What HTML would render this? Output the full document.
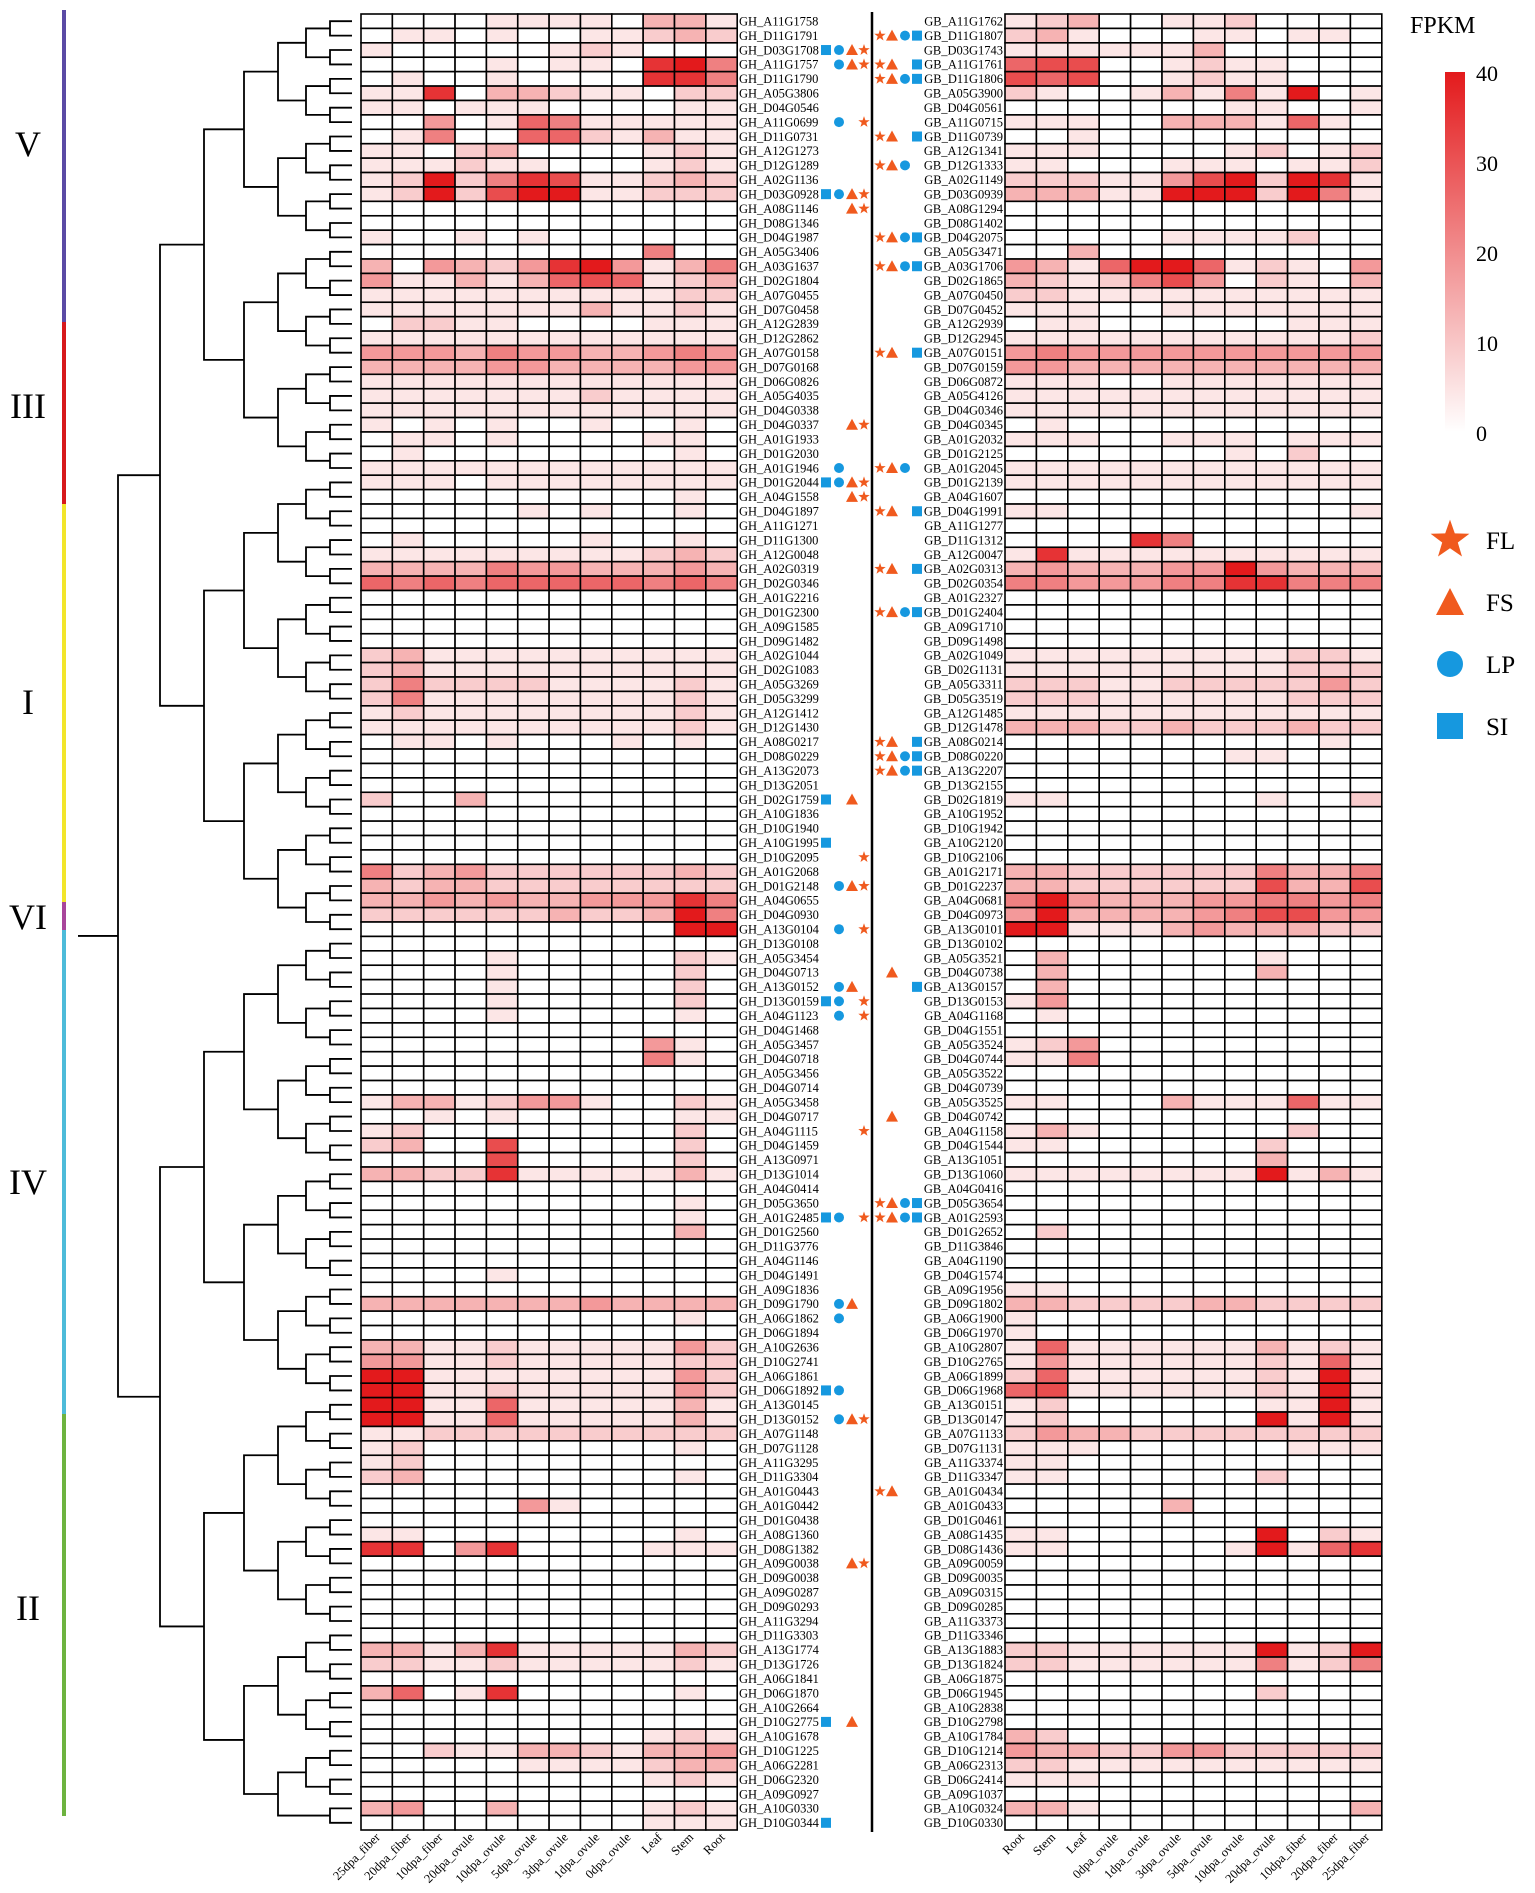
<!DOCTYPE html>
<html><head><meta charset="utf-8"><style>
html,body{margin:0;padding:0;background:#fff;}
svg{display:block;font-family:"Liberation Serif",serif;}
</style></head><body>
<svg id="chart" width="1535" height="1893" viewBox="0 0 1535 1893" xmlns="http://www.w3.org/2000/svg">
<g id="dendro"></g>
<g id="clades"></g>
<g id="hmL"></g>
<g id="hmR"></g>
<g id="labels"></g>
<g id="marks"></g>
<line x1="872" y1="12" x2="872" y2="1832" stroke="#000" stroke-width="2.5"/>
<g id="legend"></g>
</svg>
<script>
const leftGenes=["A11G1758","D11G1791","D03G1708","A11G1757","D11G1790","A05G3806","D04G0546","A11G0699","D11G0731","A12G1273","D12G1289","A02G1136","D03G0928","A08G1146","D08G1346","D04G1987","A05G3406","A03G1637","D02G1804","A07G0455","D07G0458","A12G2839","D12G2862","A07G0158","D07G0168","D06G0826","A05G4035","D04G0338","D04G0337","A01G1933","D01G2030","A01G1946","D01G2044","A04G1558","D04G1897","A11G1271","D11G1300","A12G0048","A02G0319","D02G0346","A01G2216","D01G2300","A09G1585","D09G1482","A02G1044","D02G1083","A05G3269","D05G3299","A12G1412","D12G1430","A08G0217","D08G0229","A13G2073","D13G2051","D02G1759","A10G1836","D10G1940","A10G1995","D10G2095","A01G2068","D01G2148","A04G0655","D04G0930","A13G0104","D13G0108","A05G3454","D04G0713","A13G0152","D13G0159","A04G1123","D04G1468","A05G3457","D04G0718","A05G3456","D04G0714","A05G3458","D04G0717","A04G1115","D04G1459","A13G0971","D13G1014","A04G0414","D05G3650","A01G2485","D01G2560","D11G3776","A04G1146","D04G1491","A09G1836","D09G1790","A06G1862","D06G1894","A10G2636","D10G2741","A06G1861","D06G1892","A13G0145","D13G0152","A07G1148","D07G1128","A11G3295","D11G3304","A01G0443","A01G0442","D01G0438","A08G1360","D08G1382","A09G0038","D09G0038","A09G0287","D09G0293","A11G3294","D11G3303","A13G1774","D13G1726","A06G1841","D06G1870","A10G2664","D10G2775","A10G1678","D10G1225","A06G2281","D06G2320","A09G0927","A10G0330","D10G0344"];
const rightGenes=["A11G1762","D11G1807","D03G1743","A11G1761","D11G1806","A05G3900","D04G0561","A11G0715","D11G0739","A12G1341","D12G1333","A02G1149","D03G0939","A08G1294","D08G1402","D04G2075","A05G3471","A03G1706","D02G1865","A07G0450","D07G0452","A12G2939","D12G2945","A07G0151","D07G0159","D06G0872","A05G4126","D04G0346","D04G0345","A01G2032","D01G2125","A01G2045","D01G2139","A04G1607","D04G1991","A11G1277","D11G1312","A12G0047","A02G0313","D02G0354","A01G2327","D01G2404","A09G1710","D09G1498","A02G1049","D02G1131","A05G3311","D05G3519","A12G1485","D12G1478","A08G0214","D08G0220","A13G2207","D13G2155","D02G1819","A10G1952","D10G1942","A10G2120","D10G2106","A01G2171","D01G2237","A04G0681","D04G0973","A13G0101","D13G0102","A05G3521","D04G0738","A13G0157","D13G0153","A04G1168","D04G1551","A05G3524","D04G0744","A05G3522","D04G0739","A05G3525","D04G0742","A04G1158","D04G1544","A13G1051","D13G1060","A04G0416","D05G3654","A01G2593","D01G2652","D11G3846","A04G1190","D04G1574","A09G1956","D09G1802","A06G1900","D06G1970","A10G2807","D10G2765","A06G1899","D06G1968","A13G0151","D13G0147","A07G1133","D07G1131","A11G3374","D11G3347","A01G0434","A01G0433","D01G0461","A08G1435","D08G1436","A09G0059","D09G0035","A09G0315","D09G0285","A11G3373","D11G3346","A13G1883","D13G1824","A06G1875","D06G1945","A10G2838","D10G2798","A10G1784","D10G1214","A06G2313","D06G2414","A09G1037","A10G0324","D10G0330"];
const leftCols=["25dpa_fiber","20dpa_fiber","10dpa_fiber","20dpa_ovule","10dpa_ovule","5dpa_ovule","3dpa_ovule","1dpa_ovule","0dpa_ovule","Leaf","Stem","Root"];
const rightCols=["Root","Stem","Leaf","0dpa_ovule","1dpa_ovule","3dpa_ovule","5dpa_ovule","10dpa_ovule","20dpa_ovule","10dpa_fiber","20dpa_fiber","25dpa_fiber"];
const Z="000000000000";
// values: digits 0-9 mapping to 0..40 FPKM
const leftValues=["000011110331","011010011232","100000121000","000010110895","010010000885","118033211022","110111000011","004016511111","015006621311","110230000121","111211000121","129258711232","129279911222",Z,Z,"100101000000","000000000500","304324894135","411313676123","111111111122","111111131121","022110000111","111111111111","444354433454","333344333344","111111111111","111111121111","111111111111","101010010010","011010000110","010000000010","111111111111","111011111111","000000000010","000001010010",Z,"010000010010","111111111232","333354433343","656566666565",Z,Z,Z,Z,"231111111111","231111111111","252222111121","251111111121","121111111121","111111111121","011010001010",Z,Z,Z,"200300000000",Z,Z,Z,Z,"523422222232","323322222222","334343344485","222222322395","000000000099",Z,"000010000021","000010000020","000010000020","000010000020","000010000010",Z,"000000000410","000000000510",Z,Z,"133124410021","001010000011","120000000020","230070000020","000070000020","332281111131",Z,"000000000010","000000000010","000000000030",Z,Z,"000010000000",Z,"333333343333","000000000010",Z,"331121111142","441121111122","991111111142","991121111142","991161111131","991161111131","112222222222","120000000010","120000000000","230000000010",Z,"000004100000",Z,"110000000010","880480000111",Z,Z,Z,Z,Z,Z,"331381111132","221121111121",Z,"360180000010",Z,Z,"000000000121","002113321334","000001111233","000000000121",Z,"340030000121","000000000111"];
const rightValues=["123001120000","231000110110","111111300000","677001211000","767001211000","210013151901","000000011001","111003331610","001000000000","111000012012","110001110112","222114792981","333119992951",Z,Z,"000001111200","003000000000","431699612104","321257402103","221111111111","111001111111","011000000111","111111111112","454444444444","443333333333","111001111111","111111111111","111111111111","010000000000","111001110111","000000010200","111111111111","111111111111",Z,"110000000001",Z,"000085000000","181111111111","343334494333","554445588555",Z,Z,Z,Z,"111111111221","111111111222","222112222242","222111111222","111111111111","333223222322","000000000010","000000011000",Z,Z,"110000001002",Z,Z,Z,Z,"332222225335","332222227337","594333445545","493333457744","991113433322",Z,"030000001000","030000003000","030000000000","140000000000","010000000000",Z,"124000000000","115000000000",Z,Z,"110003111611",Z,"131000000200","110000002000","000000003000","111111119131",Z,Z,Z,"020000000000",Z,Z,Z,"110000000000","332222332222","100000000000","100000000000","161111113121","141111112161","261111112191","671111112191","120000001191","120000009191","243322222222","111000000111","110000000000","110000002000",Z,"000003000000",Z,"110000009021","110000019168",Z,Z,Z,Z,Z,Z,"221111119129","221111115125",Z,"000000002000",Z,Z,"320000000000","433224422222","221111111111","111000000000",Z,"331000000003",Z];
// markers: S=SI square, C=LP circle, T=FS triangle, F=FL star (row index 1-based)
const leftMarks={3:"SCTF",4:"CTF",8:"CF",13:"SCTF",14:"TF",29:"TF",32:"C",33:"SCTF",34:"TF",55:"ST",58:"S",59:"F",61:"CTF",64:"CF",68:"CT",69:"SCF",70:"CF",78:"F",84:"SCF",90:"CT",91:"C",96:"SC",98:"CTF",108:"TF",119:"ST",126:"S"};
const rightMarks={2:"FTCS",4:"FTS",5:"FTCS",9:"FTS",11:"FTC",16:"FTCS",18:"FTCS",24:"FTS",32:"FTC",35:"FTS",39:"FTS",42:"FTCS",51:"FTS",52:"FTCS",53:"FTCS",67:"T",68:"S",77:"T",83:"FTCS",84:"FTCS",103:"FT"};
const clades=[{n:"V",y0:10,y1:322,c:"#5b4aa5"},{n:"III",y0:322,y1:504,c:"#d7191c"},{n:"I",y0:504,y1:902,c:"#f2e52a"},{n:"VI",y0:902,y1:930,c:"#a8459b"},{n:"IV",y0:930,y1:1414,c:"#4dbbd9"},{n:"II",y0:1414,y1:1816,c:"#6db33f"}];
const cladeLabelY=[144,406,702,917,1182,1608];
const cbTicks=[0,10,20,30,40];

const NS="http://www.w3.org/2000/svg";
function mk(tag,attrs,parent){const e=document.createElementNS(NS,tag);for(const k in attrs)e.setAttribute(k,attrs[k]);parent.appendChild(e);return e;}
const TOP=14, ROWH=1816/126, LX=361, RX=1005, CW=31.35, CWR=31.4;
const rowY=i=>TOP+i*ROWH;
const vmax=40;
function color(v){const t=Math.min(1,v/vmax);const r=Math.round(255-(255-227)*t),g=Math.round(255-(255-26)*t),b=Math.round(255-(255-28)*t);return `rgb(${r},${g},${b})`;}
const digitToFpkm=d=>d*40/9;

function drawHeat(gid,vals,x0,cw,cols,side){
  const g=document.getElementById(gid);
  vals.forEach((row,i)=>{
    for(let j=0;j<cols.length;j++){
      const v=digitToFpkm(+row[j]);
      const r=mk('rect',{x:x0+j*cw,y:rowY(i),width:cw,height:ROWH,fill:color(v),stroke:'#000','stroke-width':1.6},g);
      
      
    }
  });
  cols.forEach((c,j)=>{
    const cx=x0+j*cw+cw/2+4, cy=rowY(vals.length)+8;
    const t=mk('text',{x:0,y:0,'font-size':12.5,'text-anchor':'end',transform:`translate(${cx},${cy}) rotate(-45)`},g);
    t.textContent=c;
    
    
  });
}
drawHeat('hmL',leftValues,LX,CW,leftCols,'left');
drawHeat('hmR',rightValues,RX,CWR,rightCols,'right');

const lab=document.getElementById('labels');
leftGenes.forEach((n,i)=>{
  const t=mk('text',{x:739,y:rowY(i)+ROWH/2+4.3,'font-size':12.5},lab);
  t.textContent='GH_'+n;
  
  
});
rightGenes.forEach((n,i)=>{
  const t=mk('text',{x:1003,y:rowY(i)+ROWH/2+4.3,'font-size':12.5,'text-anchor':'end'},lab);
  t.textContent='GB_'+n;
  
  
});

const ORANGE="#f05a1e", BLUE="#1698df";
function shape(k,cx,cy,s,parent){
  let e;
  if(k==='S') e=mk('rect',{x:cx-s/2,y:cy-s/2,width:s,height:s,fill:BLUE},parent);
  else if(k==='C') e=mk('circle',{cx:cx,cy:cy,r:s/2,fill:BLUE},parent);
  else if(k==='T') e=mk('polygon',{points:`${cx},${cy-s/2-1} ${cx+s/2+1},${cy+s/2} ${cx-s/2-1},${cy+s/2}`,fill:ORANGE},parent);
  else {let p=[];for(let a=0;a<10;a++){const rr=a%2?s*0.24:s*0.6;const ang=-Math.PI/2+a*Math.PI/5;p.push((cx+rr*Math.cos(ang)).toFixed(1)+','+(cy+rr*Math.sin(ang)).toFixed(1));}
    e=mk('polygon',{points:p.join(' '),fill:ORANGE},parent);}
  return e;
}
const mg=document.getElementById('marks');
const lSlots={S:826,C:839,T:852,F:864}, rSlots={F:880,T:892,C:905,S:917};
const names={S:'si-square',C:'lp-circle',T:'fs-triangle',F:'fl-star'};
for(const r in leftMarks){for(const k of leftMarks[r]){const e=shape(k,lSlots[k],rowY(r-1)+ROWH/2,10,mg);
  
  }}
for(const r in rightMarks){for(const k of rightMarks[r]){const e=shape(k,rSlots[k],rowY(r-1)+ROWH/2,10,mg);
  
  }}

// dendrogram (approximate hierarchical pairing)
const dg=document.getElementById('dendro');
const levelX=[330,306,278,244,204,160,118,92];
let nodes=leftGenes.map((_,i)=>({y:rowY(i)+ROWH/2,x:352}));
let lvl=0;
while(nodes.length>1){
  const nx=levelX[Math.min(lvl,levelX.length-1)];const nn=[];
  for(let i=0;i<nodes.length;i+=2){
    if(i+1<nodes.length){const a=nodes[i],b=nodes[i+1];
      const col=(lvl===3&&i>=16&&i<=20)?'#888':'#000';
      const p=mk('path',{d:`M${a.x},${a.y}H${nx}V${b.y}H${b.x}`,fill:'none',stroke:col,'stroke-width':1.8},dg);
      
      
      nn.push({x:nx,y:(a.y+b.y)/2});}
    else nn.push(nodes[i]);
  }
  nodes=nn;lvl++;
}
{const p=mk('path',{d:`M${nodes[0].x},${nodes[0].y}H78`,fill:'none',stroke:'#000','stroke-width':1.8},dg);

}

const cg=document.getElementById('clades');
clades.forEach((c,i)=>{
  const r=mk('rect',{x:62,y:c.y0,width:4,height:c.y1-c.y0,fill:c.c},cg);
  
  
  const t=mk('text',{x:28,y:cladeLabelY[i]+12,'font-size':36,'text-anchor':'middle'},cg);
  t.textContent=c.n;
  
  
});

// colorbar + legend
const lg=document.getElementById('legend');
const defs=mk('defs',{},lg);
const grad=mk('linearGradient',{id:'cb',x1:0,y1:1,x2:0,y2:0},defs);
mk('stop',{offset:0,'stop-color':color(0)},grad);
mk('stop',{offset:0.5,'stop-color':color(20)},grad);
mk('stop',{offset:1,'stop-color':color(40)},grad);
const cbTop=72,cbBot=432;
{const r=mk('rect',{x:1445,y:cbTop,width:20,height:cbBot-cbTop,fill:'url(#cb)'},lg);

}
{const t=mk('text',{x:1410,y:33,'font-size':24},lg);t.textContent='FPKM';

}
cbTicks.forEach(v=>{
  const y=cbBot-(cbBot-cbTop)*v/40;
  const t=mk('text',{x:1476,y:y+9,'font-size':22},lg);t.textContent=v;
  
  
});
const legItems=[['F','FL',540],['T','FS',602],['C','LP',664],['S','SI',726]];
legItems.forEach(([k,n,y])=>{
  const e=shape(k,1450,y,k==='F'?34:26,lg);
  
  
  const t=mk('text',{x:1486,y:y+9,'font-size':25},lg);t.textContent=n;
  
  
});
</script>
</body></html>
